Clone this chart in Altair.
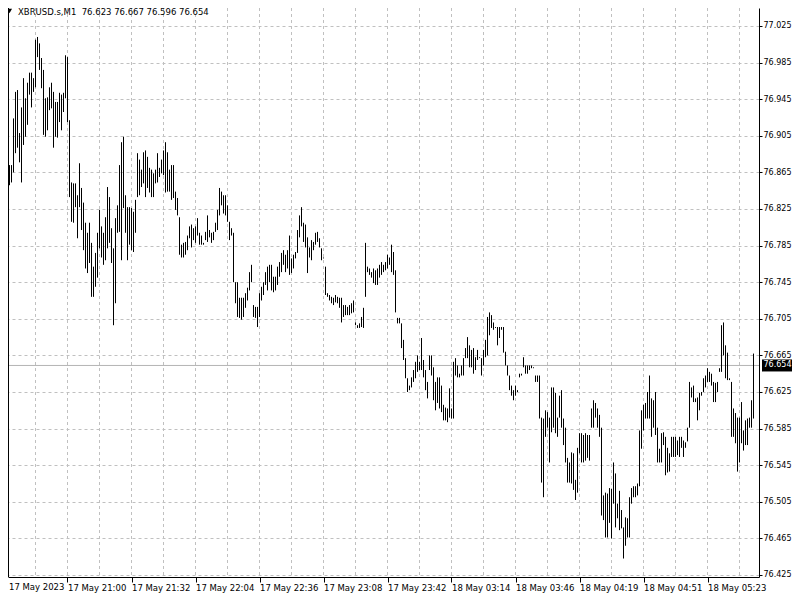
import json
import altair as alt
import pandas as pd

# ---------------- data ----------------
symbol = "XBRUSD.s,M1"
last_ohlc = [76.623, 76.667, 76.596, 76.654]
last_price = 76.654

highs = [
    76.831, 76.893, 76.875, 76.873, 76.873, 76.924, 76.953, 76.955, 76.908, 76.936,
    76.968, 76.946, 76.963, 76.974, 76.974, 76.968, 77.010, 77.013, 77.006, 76.990,
    76.977, 76.946, 76.947, 76.958, 76.963, 76.953, 76.942, 76.942, 76.952, 76.950,
    76.952, 76.993, 76.991, 76.922, 76.854, 76.853, 76.853, 76.840, 76.875, 76.848,
    76.832, 76.810, 76.799, 76.810, 76.788, 76.762, 76.777, 76.799, 76.824, 76.806,
    76.799, 76.816, 76.849, 76.838, 76.804, 76.782, 76.815, 76.829, 76.873, 76.898,
    76.904, 76.840, 76.827, 76.827, 76.826, 76.822, 76.835, 76.886, 76.879, 76.868,
    76.887, 76.889, 76.882, 76.870, 76.868, 76.864, 76.868, 76.886, 76.870, 76.879,
    76.889, 76.898, 76.887, 76.868, 76.873, 76.873, 76.844, 76.837, 76.816, 76.786,
    76.788, 76.789, 76.796, 76.806, 76.808, 76.804, 76.806, 76.815, 76.799, 76.796,
    76.788, 76.800, 76.818, 76.802, 76.799, 76.800, 76.810, 76.824, 76.848, 76.844,
    76.840, 76.840, 76.829, 76.811, 76.804, 76.799, 76.745, 76.745, 76.728, 76.728,
    76.728, 76.733, 76.739, 76.756, 76.764, 76.720, 76.718, 76.718, 76.733, 76.740,
    76.745, 76.756, 76.762, 76.764, 76.764, 76.751, 76.751, 76.762, 76.767, 76.777,
    76.780, 76.775, 76.780, 76.796, 76.771, 76.775, 76.778, 76.802, 76.818, 76.827,
    76.810, 76.808, 76.794, 76.783, 76.791, 76.789, 76.799, 76.800, 76.793, 76.782,
    76.772, 76.762, 76.733, 76.731, 76.729, 76.728, 76.731, 76.729, 76.728, 76.728,
    76.720, 76.720, 76.718, 76.720, 76.722, 76.725, 76.701, 76.698, 76.700, 76.707,
    76.717, 76.788, 76.762, 76.760, 76.756, 76.760, 76.758, 76.760, 76.764, 76.767,
    76.764, 76.767, 76.775, 76.772, 76.786, 76.778, 76.758, 76.706, 76.706, 76.700,
    76.682, 76.662, 76.640, 76.632, 76.641, 76.649, 76.658, 76.665, 76.658, 76.684,
    76.660, 76.649, 76.636, 76.665, 76.665, 76.652, 76.636, 76.641, 76.641, 76.632,
    76.611, 76.608, 76.607, 76.629, 76.607, 76.658, 76.662, 76.654, 76.645, 76.654,
    76.662, 76.673, 76.685, 76.676, 76.671, 76.673, 76.663, 76.671, 76.663, 76.662,
    76.671, 76.682, 76.707, 76.712, 76.709, 76.701, 76.696, 76.696, 76.696, 76.696,
    76.696, 76.669, 76.654, 76.643, 76.632, 76.627, 76.632, 76.627, 76.645, 76.645,
    76.663, 76.654, 76.654, 76.654, 76.654, 76.652, 76.643, 76.643, 76.643, 76.597,
    76.596, 76.605, 76.603, 76.597, 76.630, 76.630, 76.624, 76.597, 76.621, 76.627,
    76.596, 76.586, 76.553, 76.548, 76.559, 76.558, 76.529, 76.564, 76.580, 76.580,
    76.578, 76.580, 76.578, 76.578, 76.607, 76.616, 76.613, 76.607, 76.600, 76.586,
    76.512, 76.515, 76.514, 76.520, 76.519, 76.548, 76.536, 76.503, 76.517, 76.496,
    76.477, 76.488, 76.487, 76.510, 76.520, 76.522, 76.522, 76.525, 76.583, 76.605,
    76.611, 76.613, 76.625, 76.643, 76.618, 76.616, 76.625, 76.586, 76.563, 76.580,
    76.581, 76.576, 76.564, 76.558, 76.576, 76.576, 76.576, 76.572, 76.576, 76.576,
    76.572, 76.570, 76.586, 76.636, 76.630, 76.632, 76.618, 76.619, 76.624, 76.625,
    76.640, 76.643, 76.651, 76.647, 76.645, 76.636, 76.635, 76.636, 76.651, 76.698,
    76.701, 76.676, 76.668, 76.640, 76.636, 76.607, 76.602, 76.597, 76.597, 76.614,
    76.583, 76.594, 76.596, 76.597, 76.616, 76.667,
]

lows = [
    76.791, 76.829, 76.851, 76.851, 76.854, 76.865, 76.886, 76.892, 76.876, 76.854,
    76.895, 76.904, 76.917, 76.950, 76.936, 76.953, 76.958, 76.991, 76.977, 76.957,
    76.906, 76.904, 76.911, 76.933, 76.935, 76.892, 76.904, 76.903, 76.920, 76.911,
    76.931, 76.946, 76.920, 76.838, 76.811, 76.810, 76.827, 76.793, 76.827, 76.802,
    76.780, 76.760, 76.755, 76.766, 76.729, 76.729, 76.740, 76.750, 76.782, 76.772,
    76.764, 76.769, 76.782, 76.788, 76.766, 76.698, 76.722, 76.799, 76.800, 76.769,
    76.826, 76.799, 76.769, 76.786, 76.780, 76.778, 76.799, 76.838, 76.840, 76.849,
    76.853, 76.838, 76.848, 76.843, 76.838, 76.838, 76.853, 76.854, 76.860, 76.864,
    76.862, 76.843, 76.844, 76.844, 76.835, 76.837, 76.824, 76.818, 76.775, 76.772,
    76.772, 76.775, 76.780, 76.793, 76.783, 76.791, 76.788, 76.796, 76.786, 76.786,
    76.786, 76.791, 76.789, 76.794, 76.788, 76.791, 76.800, 76.802, 76.818, 76.829,
    76.820, 76.818, 76.811, 76.791, 76.796, 76.745, 76.722, 76.707, 76.706, 76.704,
    76.707, 76.717, 76.725, 76.736, 76.745, 76.707, 76.706, 76.696, 76.707, 76.725,
    76.731, 76.742, 76.736, 76.745, 76.736, 76.734, 76.736, 76.742, 76.751, 76.756,
    76.764, 76.756, 76.760, 76.753, 76.755, 76.760, 76.771, 76.777, 76.794, 76.806,
    76.789, 76.783, 76.755, 76.772, 76.769, 76.780, 76.786, 76.789, 76.783, 76.769,
    76.771, 76.731, 76.729, 76.725, 76.722, 76.720, 76.723, 76.722, 76.717, 76.701,
    76.707, 76.709, 76.709, 76.709, 76.711, 76.712, 76.698, 76.695, 76.695, 76.696,
    76.695, 76.729, 76.756, 76.753, 76.750, 76.744, 76.742, 76.742, 76.750, 76.753,
    76.756, 76.758, 76.760, 76.764, 76.756, 76.753, 76.712, 76.700, 76.700, 76.673,
    76.660, 76.640, 76.625, 76.627, 76.630, 76.636, 76.640, 76.647, 76.649, 76.649,
    76.641, 76.627, 76.618, 76.649, 76.643, 76.616, 76.605, 76.613, 76.607, 76.603,
    76.594, 76.594, 76.592, 76.597, 76.596, 76.596, 76.643, 76.641, 76.641, 76.643,
    76.643, 76.662, 76.662, 76.652, 76.652, 76.645, 76.649, 76.660, 76.662, 76.643,
    76.654, 76.663, 76.665, 76.687, 76.695, 76.693, 76.695, 76.676, 76.684, 76.693,
    76.668, 76.654, 76.643, 76.627, 76.621, 76.616, 76.621, 76.625, 76.641, 76.643,
    76.652, 76.645, 76.645, 76.649, 76.651, 76.651, 76.636, 76.636, 76.596, 76.526,
    76.510, 76.576, 76.586, 76.548, 76.581, 76.586, 76.580, 76.576, 76.597, 76.586,
    76.567, 76.548, 76.526, 76.526, 76.525, 76.518, 76.507, 76.515, 76.558, 76.548,
    76.548, 76.550, 76.553, 76.550, 76.586, 76.586, 76.597, 76.586, 76.576, 76.490,
    76.485, 76.466, 76.466, 76.482, 76.465, 76.503, 76.477, 76.487, 76.474, 76.476,
    76.443, 76.457, 76.466, 76.466, 76.503, 76.510, 76.510, 76.512, 76.522, 76.563,
    76.583, 76.596, 76.596, 76.596, 76.576, 76.586, 76.578, 76.548, 76.548, 76.548,
    76.567, 76.534, 76.537, 76.538, 76.554, 76.554, 76.554, 76.556, 76.554, 76.564,
    76.554, 76.564, 76.571, 76.586, 76.619, 76.614, 76.614, 76.594, 76.605, 76.621,
    76.625, 76.630, 76.636, 76.636, 76.632, 76.614, 76.614, 76.625, 76.647, 76.647,
    76.665, 76.640, 76.638, 76.638, 76.576, 76.576, 76.569, 76.538, 76.548, 76.569,
    76.561, 76.567, 76.567, 76.586, 76.586, 76.596,
]

x_label_idx = [32, 64, 96, 128, 160, 192, 224, 256, 288, 320, 352]
x_labels = ["17 May 2023", "17 May 21:00", "17 May 21:32", "17 May 22:04",
            "17 May 22:36", "17 May 23:08", "17 May 23:42", "18 May 03:14",
            "18 May 03:46", "18 May 04:19", "18 May 04:51", "18 May 05:23"]
vgrid_idx = [16, 32, 48, 64, 80, 96, 112, 128, 144, 160, 176, 192, 208,
             224, 240, 256, 272, 288, 304, 320, 336, 352, 368]
y_ticks = [76.425, 76.465, 76.505, 76.545, 76.585, 76.625, 76.665, 76.705,
           76.745, 76.785, 76.825, 76.865, 76.905, 76.945, 76.985, 77.025]

# ---------------- chart ----------------
FONT = "DejaVu Sans"
FS = 8.5
W, H = 751, 569
GRID = "#c0c0c0"

df = pd.DataFrame({"i": list(range(len(highs))), "high": highs, "low": lows})
x_scale = alt.Scale(domain=[2.25, 377.75], nice=False, zero=False)
y_scale = alt.Scale(domain=[76.422814, 77.044672], nice=False, zero=False)

label_expr = json.dumps(x_labels) + "[round(datum.value / 32)]"

x_axis = alt.Axis(
    orient="bottom", values=x_label_idx, labelExpr=label_expr, title=None,
    grid=False, tickSize=5, tickColor="black", tickWidth=1,
    domainColor="black", domainWidth=1,
    labelFont=FONT, labelFontSize=FS, labelColor="black",
    labelAlign="left", labelPadding=1, labelFlush=False, labelOverlap=False)
y_axis = alt.Axis(
    orient="right", values=y_ticks, format=".3f", title=None,
    grid=True, gridColor=GRID, gridDash=[3, 3], gridWidth=1,
    tickSize=3, tickColor="black", tickWidth=1,
    domainColor="black", domainWidth=1,
    labelFont=FONT, labelFontSize=8, labelColor="black",
    labelPadding=1, labelFlush=False, labelOverlap=False)

vgrid = alt.Chart(pd.DataFrame({"i": vgrid_idx})).mark_rule(
    color=GRID, strokeWidth=1, strokeDash=[3, 3]
).encode(x=alt.X("i:Q", scale=x_scale, axis=x_axis))

price_df = pd.DataFrame({"p": [last_price], "t": [f"{last_price:.3f}"]})
price_line = alt.Chart(price_df).mark_rule(color="#b4b4b4", strokeWidth=1).encode(
    y=alt.Y("p:Q", scale=y_scale, axis=y_axis), x=alt.value(0), x2=alt.value(W))

bars = alt.Chart(df).mark_rule(color="black", strokeWidth=1).encode(
    x=alt.X("i:Q", scale=x_scale, axis=x_axis),
    y=alt.Y("low:Q", scale=y_scale, axis=y_axis),
    y2="high:Q",
)

left_border = alt.Chart(pd.DataFrame({"a": [0]})).mark_rule(color="black", strokeWidth=1).encode(
    x=alt.value(0.5), y=alt.value(0), y2=alt.value(H))

price_box = alt.Chart(price_df).mark_rule(color="black", strokeWidth=12, strokeCap="butt").encode(
    y=alt.Y("p:Q", scale=y_scale, axis=y_axis), x=alt.value(754), x2=alt.value(784))
price_text = alt.Chart(price_df).mark_text(
    color="white", font=FONT, fontSize=8, align="left", baseline="middle"
).encode(y=alt.Y("p:Q", scale=y_scale, axis=y_axis), x=alt.value(755.5), text="t:N")

first_label = alt.Chart(pd.DataFrame({"t": [x_labels[0]]})).mark_text(
    color="black", font=FONT, fontSize=FS, align="left", baseline="top"
).encode(x=alt.value(1), y=alt.value(H + 6), text="t:N")

# two visible spaces between symbol and prices (non-breaking so SVG keeps them)
header_str = symbol + "\u00a0\u00a0" + "\u00a0".join(f"{v:.3f}" for v in last_ohlc)
header = alt.Chart(pd.DataFrame({"t": [header_str]})).mark_text(
    color="black", font=FONT, fontSize=FS, align="left", baseline="middle"
).encode(x=alt.value(10), y=alt.value(4), text="t:N")
tri = alt.Chart(pd.DataFrame({"a": [0]})).mark_point(
    shape="triangle-down", filled=True, size=26, color="black", opacity=1
).encode(x=alt.value(1.5), y=alt.value(3))

chart = alt.layer(
    vgrid, price_line, bars, left_border, price_box, price_text, first_label, header, tri
).properties(
    width=W, height=H,
    autosize=alt.AutoSizeParams(type="none"),
    padding={"left": 0, "top": 0, "right": 33, "bottom": 16},
    background="white",
).configure_view(stroke=None)

chart.save("out.html", embed_options={"renderer": "svg", "actions": False})
